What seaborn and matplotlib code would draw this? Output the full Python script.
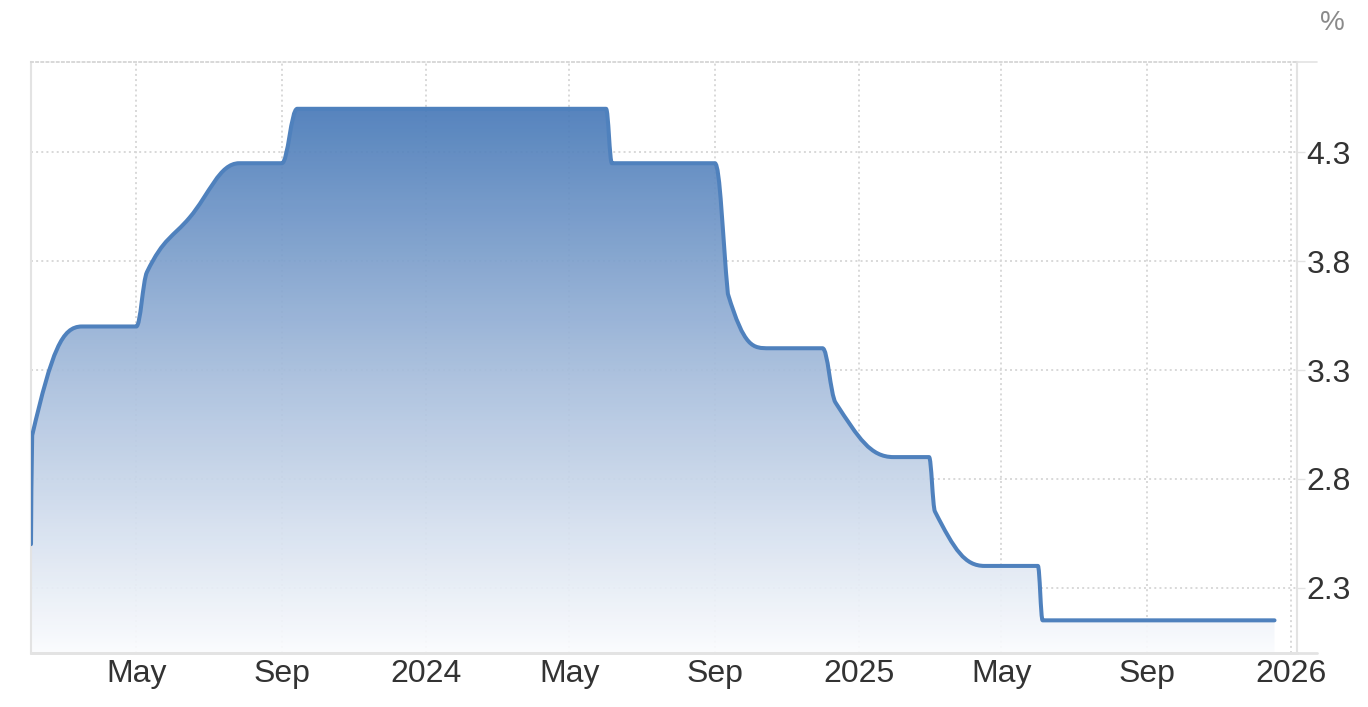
import numpy as np
import pandas as pd
import matplotlib
matplotlib.use("Agg")
import matplotlib.pyplot as plt
import matplotlib.dates as mdates
from matplotlib.path import Path
from matplotlib.patches import PathPatch
from matplotlib.colors import LinearSegmentedColormap
import seaborn as sns

dates = ['2023-02-01', '2023-02-02', '2023-03-16', '2023-05-01', '2023-05-10',
         '2023-06-15', '2023-07-27', '2023-09-01', '2023-09-14', '2024-06-01',
         '2024-06-06', '2024-09-01', '2024-09-12', '2024-10-17', '2024-12-01',
         '2024-12-12', '2025-01-30', '2025-03-01', '2025-03-06', '2025-04-17',
         '2025-06-01', '2025-06-05', '2025-12-18']
rates = [2.5, 3.0, 3.5, 3.5, 3.75,
         4.0, 4.25, 4.25, 4.5, 4.5,
         4.25, 4.25, 3.65, 3.4, 3.4,
         3.15, 2.9, 2.9, 2.65, 2.4,
         2.4, 2.15, 2.15]

tick_dates = ['2023-05-01', '2023-09-01', '2024-01-01', '2024-05-01', '2024-09-01',
              '2025-01-01', '2025-05-01', '2025-09-01', '2026-01-01']
tick_labels = ['May', 'Sep', '2024', 'May', 'Sep', '2025', 'May', 'Sep', '2026']
y_ticks = [2.3, 2.8, 3.3, 3.8, 4.3]

df = pd.DataFrame({'date': pd.to_datetime(dates), 'rate': rates})

sns.set_theme(style="white")
plt.rcParams['font.family'] = ['Liberation Sans', 'DejaVu Sans']

LINE = '#4f81bd'
GRID = '#d8d8d8'
AXIS = '#e3e3e3'


def spline_path(xs, ys, smoothing=1.5):
    # smooth curve through the points (same control-point rule as a "spline" series)
    n = len(xs)
    left = [None] * n
    right = [None] * n
    d = smoothing + 1
    for i in range(1, n - 1):
        x, y = xs[i], ys[i]
        lx, ly = xs[i - 1], ys[i - 1]
        nx, ny = xs[i + 1], ys[i + 1]
        lcx = (smoothing * x + lx) / d
        lcy = (smoothing * y + ly) / d
        rcx = (smoothing * x + nx) / d
        rcy = (smoothing * y + ny) / d
        corr = 0.0
        if rcx != lcx:
            corr = (rcy - lcy) * (rcx - x) / (rcx - lcx) + y - rcy
        lcy += corr
        rcy += corr
        if lcy > ly and lcy > y:
            lcy = max(ly, y); rcy = 2 * y - lcy
        elif lcy < ly and lcy < y:
            lcy = min(ly, y); rcy = 2 * y - lcy
        if rcy > ny and rcy > y:
            rcy = max(ny, y); lcy = 2 * y - rcy
        elif rcy < ny and rcy < y:
            rcy = min(ny, y); lcy = 2 * y - rcy
        left[i] = (lcx, lcy)
        right[i] = (rcx, rcy)
    verts = [(xs[0], ys[0])]
    codes = [Path.MOVETO]
    for i in range(1, n):
        c1 = right[i - 1] or (xs[i - 1], ys[i - 1])
        c2 = left[i] or (xs[i], ys[i])
        verts += [c1, c2, (xs[i], ys[i])]
        codes += [Path.CURVE4] * 3
    return verts, codes


xs = mdates.date2num(df['date'])
ys = df['rate'].to_numpy()
verts, codes = spline_path(list(xs), list(ys))

y_min, y_max = 2.0, 4.715
x_min = mdates.date2num(pd.Timestamp('2023-02-01'))
x_max = mdates.date2num(pd.Timestamp('2026-01-06'))

fig = plt.figure(figsize=(13.68, 7.07), dpi=100)
ax = fig.add_axes([31 / 1368, 54 / 707, 1266 / 1368, 591 / 707])

# gradient area under the curve
fill_verts = verts + [(xs[-1], y_min), (xs[0], y_min), (xs[0], ys[0])]
fill_codes = codes + [Path.LINETO, Path.LINETO, Path.CLOSEPOLY]
fill_patch = PathPatch(Path(fill_verts, fill_codes), facecolor='none', edgecolor='none')
ax.add_patch(fill_patch)
cmap = LinearSegmentedColormap.from_list('area', ['#fbfcfe', '#a9bfdd', '#4a7bb9'])
grad = np.linspace(0, 1, 256).reshape(-1, 1)
im = ax.imshow(grad, extent=[xs[0], xs[-1], y_min, ys.max()], origin='lower',
               cmap=cmap, aspect='auto', zorder=1, alpha=0.93)
im.set_clip_path(fill_patch)

line = PathPatch(Path(verts, codes), facecolor='none', edgecolor=LINE, lw=2.9,
                 capstyle='round', joinstyle='round', zorder=3)
ax.add_patch(line)

ax.set_xlim(x_min, x_max)
ax.set_ylim(y_min, y_max)
ax.xaxis_date()

ax.set_xticks(mdates.date2num(pd.to_datetime(tick_dates)))
ax.set_xticklabels(tick_labels)
ax.set_yticks(y_ticks)
ax.set_yticklabels([f'{v:.1f}' for v in y_ticks])
ax.yaxis.tick_right()

ax.grid(True, color=GRID, linestyle=':', linewidth=1.4, zorder=0)
ax.set_axisbelow(True)

ax.tick_params(axis='x', length=0, pad=4, labelsize=23, labelcolor='#333333')
ax.tick_params(axis='y', length=6, width=1, color=AXIS, pad=1,
               labelsize=23, labelcolor='#333333')

for side in ['left', 'right', 'bottom']:
    ax.spines[side].set_color(AXIS)
    ax.spines[side].set_linewidth(1.5)
ax.spines['bottom'].set_linewidth(2)
ax.spines['top'].set_color(GRID)
ax.spines['top'].set_linestyle(':')
ax.spines['top'].set_linewidth(1.4)

# axis lines run a little past the right border
ext = 1 + 20 / 1266
ax.plot([0, ext], [0, 0], transform=ax.transAxes, color=AXIS, lw=2, clip_on=False)
ax.plot([1, ext], [1, 1], transform=ax.transAxes, color=AXIS, lw=1.2, clip_on=False)

fig.text(1332 / 1368, 1 - 23 / 707, '%', ha='center', va='center',
         fontsize=20, color='#8a8a8a')

fig.savefig('out.png', dpi=100)
